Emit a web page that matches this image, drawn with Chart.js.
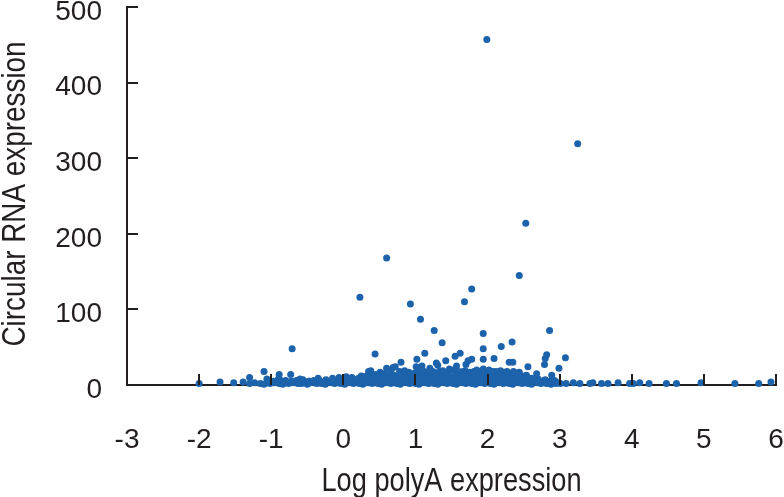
<!DOCTYPE html>
<html>
<head>
<meta charset="utf-8">
<script src="https://cdn.jsdelivr.net/npm/chart.js@4.4.1/dist/chart.umd.min.js"></script>
<style>
  html,body{margin:0;padding:0;background:#fff;}
  #wrap{width:784px;height:497px;}
</style>
</head>
<body>
<div id="wrap"><canvas id="chart" width="784" height="497"></canvas></div>
<script>
// axis ticks and titles
const xTicks = [-3, -2, -1, 0, 1, 2, 3, 4, 5, 6];
const yTicks = [0, 100, 200, 300, 400, 500];
const xTitle = 'Log polyA expression';
const yTitle = 'Circular RNA expression';

// high points
const highX = [1.99, 3.25, 2.53, 2.44, 0.60, 0.23, 1.78, 1.68, 0.93, 1.07, 1.26, 1.37, 1.94, 2.86, -0.71, 0.44, 2.34, 2.19, 1.94, 1.13, 1.02];
const highY = [457, 319, 214, 145, 168, 116, 127, 110, 107, 87, 72, 56, 68, 72, 48, 41, 57, 51, 48, 42, 34];

// points between ~15 and ~40
const midX = [0.80, 0.72, 0.60, 0.35, 0.51, 1.29, 1.42, 1.55, 1.62, 1.70, 1.78, 1.57, 1.47, 1.94, 2.09, 1.94, 2.35, 2.30, 2.82, 2.80, 2.79, 3.08, 2.56, 2.99, 1.01, 1.09, 1.20, 1.73, 1.85, 2.12, 1.66, -1.10, -0.89, -0.73, -1.30, -1.06, 2.29, 2.39, 2.54, 2.68, 2.89, 2.45, 1.31, 0.69, 0.38];
const midY = [30, 24, 22, 18, 17, 29, 32, 38, 42, 27, 34, 25, 21, 34, 35, 21, 30, 30, 40, 35, 27, 36, 24, 22, 24, 25, 22, 32, 20, 18, 18, 18, 14, 14, 10, 8, 16, 16, 13, 15, 13, 11, 26, 23, 19];

// dense band near the x axis
const bandX = [
  -1.30, -1.23, -1.15, -1.10, -1.02, -0.96, -0.89, -0.84, -0.76, -0.70, -0.63, -0.58, -0.50, -0.45, -0.37, -0.30, -0.25, -0.17, -0.12, -0.04,
  0.02, 0.09, 0.14, 0.22, 0.27, 0.35, 0.40, 0.48, 0.53, 0.61, 0.66, 0.74, 0.79, 0.87, 0.92, 1.00, 1.05, 1.13, 1.18, 1.26,
  1.31, 1.39, 1.44, 1.52, 1.57, 1.65, 1.70, 1.78, 1.83, 1.91, 1.96, 2.04, 2.09, 2.17, 2.22, 2.30, 2.35, 2.43, 2.48, 2.56,
  2.61, 2.69, 2.74, 2.82, 2.88, 2.95, 3.01,
  -0.99, -0.93, -0.86, -0.79, -0.73, -0.66, -0.60, -0.53, -0.47, -0.40, -0.34, -0.27, -0.21, -0.14, -0.08, -0.01, 0.05, 0.12, 0.18, 0.25,
  0.31, 0.38, 0.44, 0.51, 0.57, 0.64, 0.70, 0.77, 0.83, 0.90, 0.96, 1.03, 1.09, 1.16, 1.22, 1.29, 1.35, 1.42, 1.48, 1.55,
  1.61, 1.68, 1.74, 1.81, 1.87, 1.94, 2.00, 2.07, 2.13, 2.20, 2.26, 2.33, 2.39, 2.46, 2.52, 2.59, 2.65, 2.72, 2.78, 2.85,
  2.91, 2.98,
  -1.05, -0.97, -0.88, -0.80, -0.72, -0.65, -0.56, -0.48, -0.41, -0.33, -0.24, -0.17, -0.08, 0.00, 0.08, 0.15, 0.24, 0.31, 0.39, 0.46,
  0.55, 0.62, 0.70, 0.77, 0.86, 0.92, 1.01, 1.08, 1.17, 1.23, 1.32, 1.39, 1.47, 1.54, 1.63, 1.70, 1.78, 1.85, 1.94, 2.00,
  2.09, 2.16, 2.25, 2.31, 2.40, 2.47, 2.56, 2.62, 2.71, 2.78, 2.87, 2.93,
  -0.90, -0.60, -0.35, 0.01, 0.10, 0.18, 0.27, 0.35, 0.43, 0.52, 0.60, 0.69, 0.77, 0.85, 0.94, 1.02, 1.11, 1.19, 1.27, 1.36,
  1.44, 1.53, 1.61, 1.69, 1.78, 1.86, 1.95, 2.03, 2.11, 2.20, 2.28, 2.37, 2.45, 2.53, 2.62, 2.70, 2.80,
  -0.15, -0.06, 0.04, 0.12, 0.21, 0.29, 0.38, 0.46, 0.56, 0.63, 0.73, 0.80, 0.90, 0.97, 1.07, 1.14, 1.24, 1.31, 1.41, 1.48,
  1.58, 1.65, 1.75, 1.82, 1.92, 1.99, 2.09, 2.16, 2.26, 2.33, 2.43, 2.50, 2.61,
  0.25, 0.34, 0.42, 0.51, 0.61, 0.70, 0.78, 0.87, 0.95, 1.04, 1.12, 1.21, 1.29, 1.38, 1.46, 1.55, 1.63, 1.72, 1.80, 1.89,
  1.97, 2.06, 2.14, 2.23, 2.31, 2.40, 2.49,
  0.45, 0.57, 0.66, 0.79, 0.88, 0.99, 1.08, 1.18, 1.27, 1.37, 1.45, 1.56, 1.64, 1.74, 1.83, 1.93, 2.02, 2.12, 2.21, 2.31, 2.41,
  0.66, 0.78, 0.91, 1.12, 1.21, 1.33, 1.43, 1.60, 1.75, 1.88, 1.97, 2.08, 2.23, 2.36, 2.44,
  0.85, 1.03, 1.24, 1.38, 1.52, 1.69, 1.81, 2.02, 2.18, 2.27
];
const bandY = [
  2, 3, 2, 1, 2, 3, 2, 1, 2, 3, 2, 2, 1, 3, 2, 2, 1, 3, 2, 2,
  1, 3, 2, 2, 1, 3, 2, 2, 1, 3, 2, 2, 1, 3, 2, 2, 1, 3, 2, 2,
  1, 3, 2, 2, 1, 3, 2, 2, 1, 3, 2, 2, 1, 3, 2, 2, 1, 3, 2, 2,
  1, 3, 2, 2, 1, 2, 2,
  4, 5, 3, 4, 4, 5, 3, 4, 5, 4, 3, 4, 5, 4, 4, 3, 5, 4, 4, 5,
  3, 4, 5, 4, 3, 4, 5, 4, 4, 3, 5, 4, 4, 5, 3, 4, 5, 4, 4, 3,
  5, 4, 4, 5, 3, 4, 5, 4, 4, 3, 5, 4, 4, 5, 3, 4, 5, 4, 3, 4,
  4, 3,
  6, 5, 7, 6, 5, 6, 7, 5, 6, 6, 7, 5, 6, 7, 6, 5, 7, 6, 6, 7,
  5, 6, 7, 6, 5, 7, 6, 6, 7, 5, 6, 7, 6, 6, 7, 5, 6, 7, 6, 6,
  7, 5, 6, 7, 6, 5, 6, 7, 5, 6, 5, 6,
  8, 8, 9, 8, 9, 7, 8, 9, 8, 8, 9, 7, 8, 9, 8, 8, 9, 7, 8, 9,
  8, 8, 9, 7, 8, 9, 8, 8, 9, 7, 8, 9, 8, 8, 7, 8, 7,
  9, 10, 11, 10, 9, 11, 10, 10, 11, 9, 10, 11, 10, 10, 11, 9, 11, 10, 10, 11,
  9, 10, 11, 10, 10, 11, 9, 10, 11, 10, 9, 10, 9,
  12, 13, 12, 13, 12, 13, 13, 12, 13, 12, 13, 12, 13, 12, 13, 12, 13, 12, 13, 12,
  13, 12, 13, 12, 13, 12, 12,
  14, 15, 16, 15, 14, 16, 15, 15, 16, 14, 15, 16, 15, 15, 16, 14, 15, 16, 15, 14, 15,
  17, 18, 17, 18, 17, 18, 17, 18, 17, 18, 17, 18, 17, 18, 17,
  19, 20, 18, 19, 20, 19, 18, 20, 19, 18
];

// sparse tails on both sides
const tailX = [-2.00, -1.71, -1.52, -1.39, 3.09, 3.19, 3.28, 3.42, 3.46, 3.58, 3.67, 3.81, 3.97, 4.02, 4.11, 4.24, 4.48, 4.62, 4.96, 5.43, 5.76, 5.93];
const tailY = [2, 4, 3, 4, 2, 3, 2, 2, 3, 2, 2, 3, 2, 2, 3, 2, 2, 2, 3, 2, 2, 4];

const INK = '#231f20';
const DOT = '#1d63ab';
const TICK_FONT = "'Liberation Sans', Arial, Helvetica, sans-serif";
const TITLE_FONT = "'Liberation Sans', Arial, sans-serif";

function pairs(xs, ys) { return xs.map((x, i) => ({x: x, y: ys[i]})); }
const points = [].concat(pairs(bandX, bandY), pairs(tailX, tailY), pairs(midX, midY), pairs(highX, highY));

// tick marks point into the plot, drawn over the dots
const innerTicks = {
  id: 'innerTicks',
  afterDatasetsDraw(chart) {
    const {ctx, chartArea, scales} = chart;
    ctx.save();
    ctx.strokeStyle = INK;
    ctx.lineWidth = 2;
    ctx.beginPath();
    xTicks.slice(1).forEach(v => {
      const px = Math.round(scales.x.getPixelForValue(v));
      ctx.moveTo(px, chartArea.bottom);
      ctx.lineTo(px, chartArea.bottom - 11);
    });
    yTicks.slice(1).forEach(v => {
      const py = Math.round(scales.y.getPixelForValue(v));
      ctx.moveTo(chartArea.left, py);
      ctx.lineTo(chartArea.left + 11, py);
    });
    ctx.stroke();
    ctx.restore();
  }
};

// axis titles in a narrow face (squeezed horizontally, no condensed font installed)
const narrowTitles = {
  id: 'narrowTitles',
  afterDraw(chart) {
    const {ctx, chartArea} = chart;
    ctx.save();
    ctx.fillStyle = INK;
    ctx.font = '34px ' + TITLE_FONT;
    ctx.textAlign = 'center';
    ctx.textBaseline = 'alphabetic';
    ctx.save();
    ctx.translate((chartArea.left + chartArea.right) / 2, 491);
    ctx.scale(0.8, 1);
    ctx.fillText(xTitle, 0, 0);
    ctx.restore();
    ctx.save();
    ctx.translate(25, (chartArea.top + chartArea.bottom) / 2 - 2);
    ctx.rotate(-Math.PI / 2);
    ctx.scale(0.82, 1);
    ctx.fillText(yTitle, 0, 0);
    ctx.restore();
    ctx.restore();
  }
};

new Chart(document.getElementById('chart'), {
  type: 'scatter',
  data: {
    datasets: [{
      data: points,
      backgroundColor: DOT,
      borderColor: DOT,
      borderWidth: 0,
      pointRadius: 3.5,
      clip: false
    }]
  },
  options: {
    responsive: false,
    animation: false,
    layout: {padding: {top: 7, right: 8, left: 0, bottom: 0}},
    plugins: {legend: {display: false}, tooltip: {enabled: false}},
    scales: {
      x: {
        type: 'linear',
        min: -3,
        max: 6,
        afterBuildTicks: s => { s.ticks = xTicks.map(v => ({value: v})); },
        afterFit: s => { s.height = 112; s.paddingLeft = 0; s.paddingRight = 0; },
        grid: {display: false, drawTicks: true, tickLength: 38},
        border: {display: true, color: INK, width: 2},
        ticks: {color: INK, font: {family: TICK_FONT, size: 28}, padding: 0, maxRotation: 0, autoSkip: false}
      },
      y: {
        type: 'linear',
        min: 0,
        max: 500,
        afterBuildTicks: s => { s.ticks = yTicks.map(v => ({value: v})); },
        afterFit: s => { s.width = 127; s.paddingTop = 0; s.paddingBottom = 0; },
        grid: {display: false, drawTicks: false},
        border: {display: true, color: INK, width: 2},
        ticks: {color: INK, font: {family: TICK_FONT, size: 28}, padding: 25, labelOffset: 5}
      }
    }
  },
  plugins: [innerTicks, narrowTitles]
});
</script>
</body>
</html>
